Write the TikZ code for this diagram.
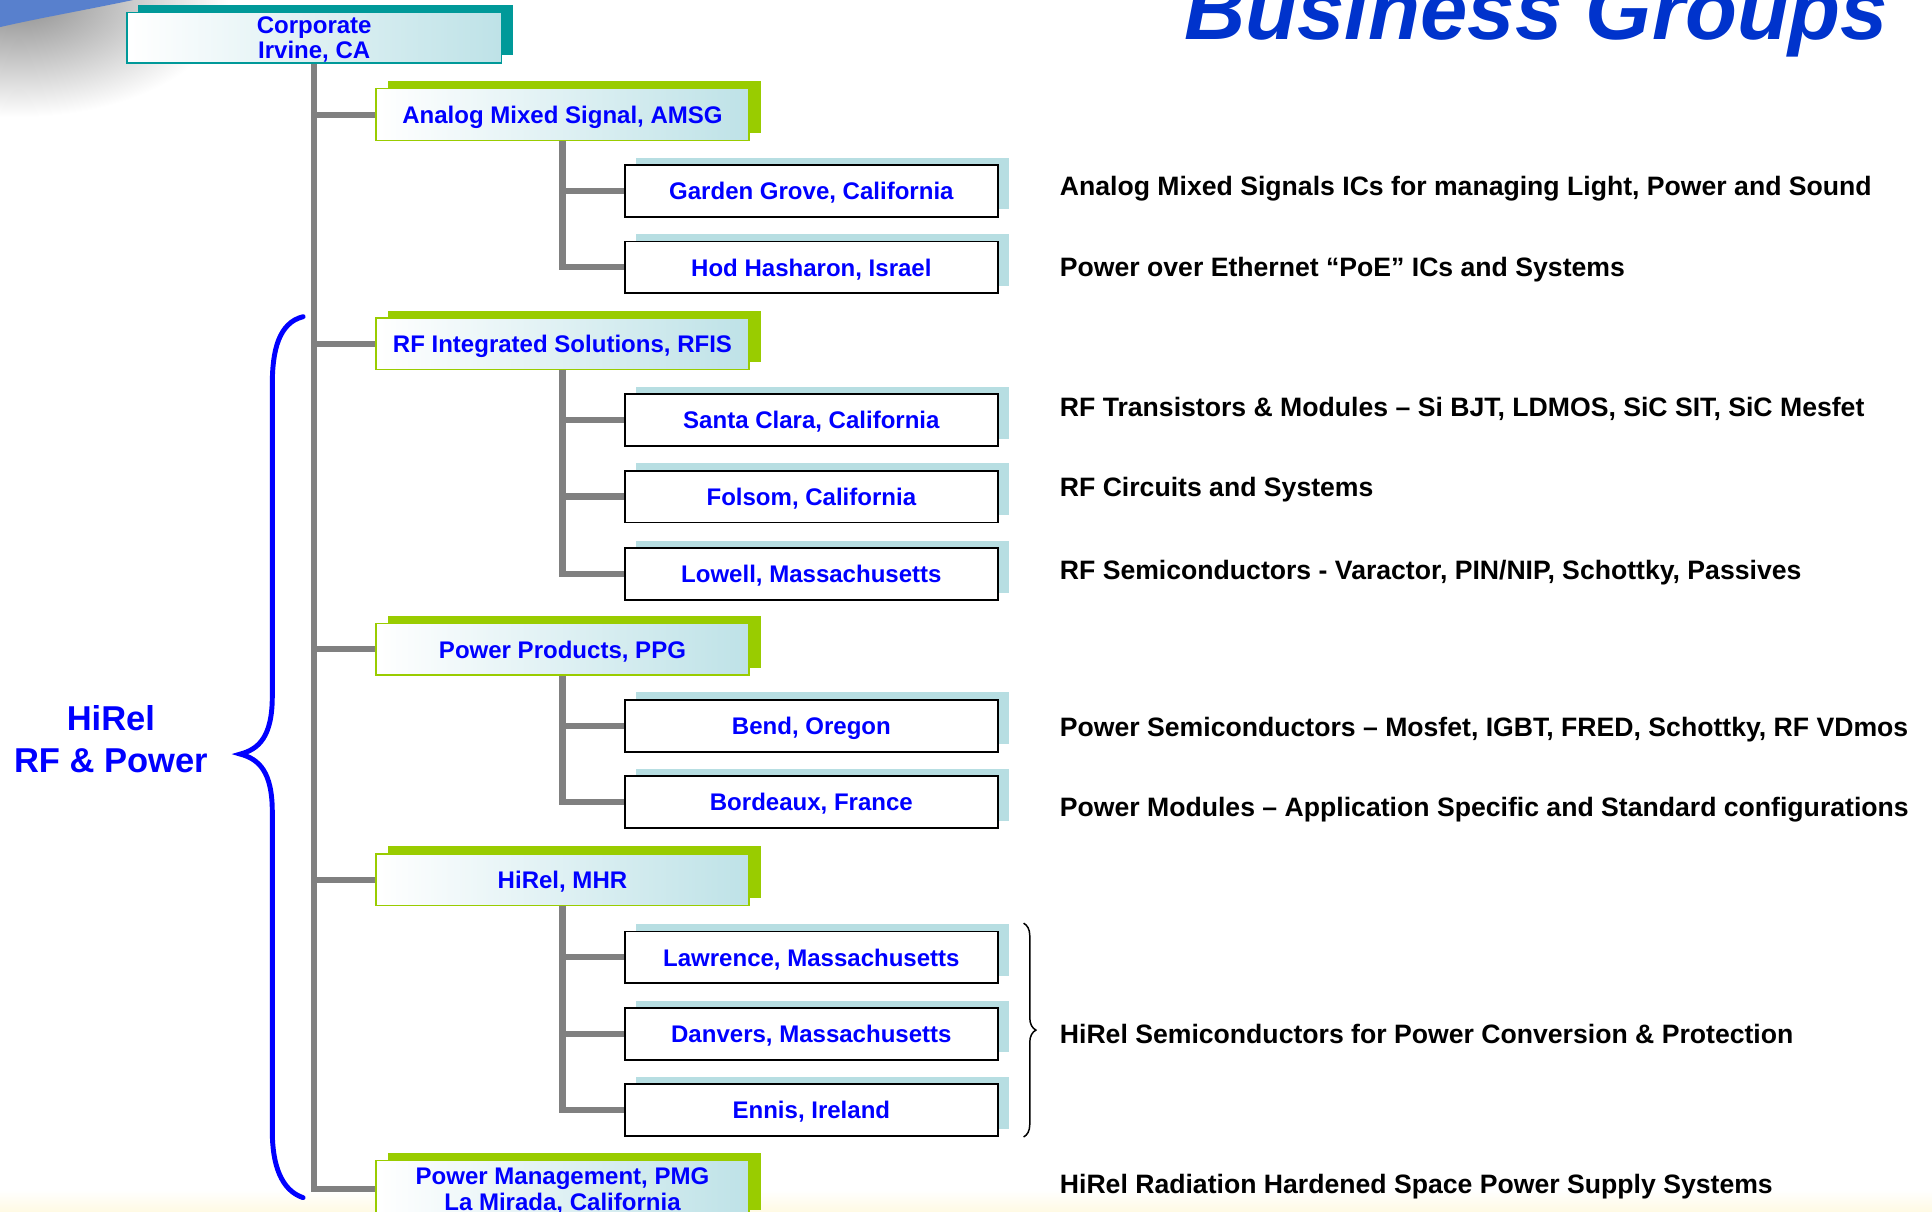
\documentclass[tikz,border=0pt]{standalone}
\usepackage{fontspec}
\setmainfont{Liberation Sans}
\usetikzlibrary{shadows,decorations.pathreplacing}

\definecolor{orgblue}{RGB}{0,0,255}
\definecolor{titleblue}{RGB}{0,51,204}
\definecolor{corpteal}{RGB}{0,153,153}
\definecolor{grpgreen}{RGB}{153,204,0}
\definecolor{boxcyan}{RGB}{190,226,231}
\definecolor{siteshadow}{RGB}{183,222,226}
\definecolor{linegray}{RGB}{128,128,128}
\definecolor{swoosh}{RGB}{88,128,205}
\definecolor{cream}{RGB}{255,250,228}

\tikzset{
  boxtext/.style={align=center, inner sep=0pt, text=orgblue, text depth=0pt,
    font=\fontsize{19.5}{20.5}\selectfont\bfseries},
  corpbox/.style={boxtext, draw=corpteal, line width=1.2pt,
    left color=white, right color=boxcyan,
    minimum width=304pt, minimum height=41pt,
    general shadow={fill=corpteal, shadow xshift=9pt, shadow yshift=6pt}},
  grpbox/.style={boxtext, draw=grpgreen, line width=1.2pt,
    left color=white, right color=boxcyan,
    minimum width=303pt, minimum height=42pt,
    general shadow={fill=grpgreen, shadow xshift=10pt, shadow yshift=6pt}},
  sitebox/.style={boxtext, draw=black, line width=1.5pt, fill=white,
    minimum width=303pt, minimum height=42pt,
    general shadow={fill=siteshadow, shadow xshift=9pt, shadow yshift=6pt}},
  desc/.style={anchor=west, inner sep=0pt, text height=16pt, text depth=0pt,
    font=\fontsize{21.6}{24}\selectfont\bfseries},
  trunk/.style={draw=linegray, line width=5pt}
}

\begin{document}
\begin{tikzpicture}[x=1pt, y=-1pt]
    \useasboundingbox (0,0) rectangle (1568,983);
    \clip (0,0) rectangle (1568,983);

    % background
    \shade[inner color=black!45, outer color=white] (15,0) ellipse (170 and 95);
    \fill[swoosh] (0,0) -- (108,0) .. controls (70,8) and (30,15) .. (0,22) -- cycle;
    \shade[top color=white, bottom color=cream] (0,966) rectangle (1568,983);

    \node[anchor=base west, text=titleblue, inner sep=0pt,
          font=\fontsize{69}{71}\selectfont\bfseries\itshape] (title) at (961,32) {Business Groups};

    \node[corpbox] (corp) at (255,30.5) {Corporate\\Irvine, CA};

    \node[grpbox] (amsg) at (456.5,93) {Analog Mixed Signal, AMSG};
    \node[grpbox] (rfis) at (456.5,279) {RF Integrated Solutions, RFIS};
    \node[grpbox] (ppg) at (456.5,527) {Power Products, PPG};
    \node[grpbox] (mhr) at (456.5,714) {HiRel, MHR};
    \node[grpbox, minimum height=46pt] (pmg) at (456.5,965) {Power Management, PMG\\La Mirada, California};

    \node[sitebox] (gg) at (658.5,155) {Garden Grove, California};
    \node[sitebox] (hod) at (658.5,217) {Hod Hasharon, Israel};
    \node[sitebox] (sc) at (658.5,341) {Santa Clara, California};
    \node[sitebox] (fol) at (658.5,403) {Folsom, California};
    \node[sitebox] (low) at (658.5,466) {Lowell, Massachusetts};
    \node[sitebox] (bend) at (658.5,589) {Bend, Oregon};
    \node[sitebox] (bdx) at (658.5,651) {Bordeaux, France};
    \node[sitebox] (law) at (658.5,777) {Lawrence, Massachusetts};
    \node[sitebox] (dan) at (658.5,839) {Danvers, Massachusetts};
    \node[sitebox] (enn) at (658.5,901) {Ennis, Ireland};

    \draw[trunk] (corp.south) -- (corp.south |- pmg.west) -- (pmg.west);
    \foreach \g in {amsg, rfis, ppg, mhr}
    \draw[trunk] (corp.south |- \g.west) -- (\g.west);

    \draw[trunk] (amsg.south) |- (hod.west);
    \draw[trunk] (rfis.south) |- (low.west);
    \draw[trunk] (ppg.south) |- (bdx.west);
    \draw[trunk] (mhr.south) |- (enn.west);
    \foreach \g/\s in {amsg/gg, rfis/sc, rfis/fol, ppg/bend, mhr/law, mhr/dan}
    \draw[trunk] (\g.south |- \s.west) -- (\s.west);

    \foreach \n/\y/\t in {1/151/{Analog Mixed Signals ICs for managing Light, Power and Sound},
                          2/216/{Power over Ethernet “PoE” ICs and Systems},
                          3/330/{RF Transistors \& Modules – Si BJT, LDMOS, SiC SIT, SiC Mesfet},
                          4/395/{RF Circuits and Systems},
                          5/462/{RF Semiconductors - Varactor, PIN/NIP, Schottky, Passives},
                          6/590/{Power Semiconductors – Mosfet, IGBT, FRED, Schottky, RF VDmos},
                          7/655/{Power Modules – Application Specific and Standard configurations},
                          8/839/{HiRel Semiconductors for Power Conversion \& Protection},
                          9/961/{HiRel Radiation Hardened Space Power Supply Systems}}
    \node[desc] (d\n) at (860,\y) {\t};

    \draw[line width=1.2pt, decorate, decoration={brace, amplitude=10pt}]
        ([xshift=20pt, yshift=6pt]law.north east) -- ([xshift=20pt]enn.south east);

    \draw[orgblue, line width=4pt, line cap=round]
        (246,257) .. controls (226,262) and (221,285) .. (221,312) -- (221,565)
        .. controls (221,598) and (210,608) .. (195,612)
        .. controls (210,616) and (221,626) .. (221,659) -- (221,918)
        .. controls (221,945) and (228,966) .. (246,972);
    \node[align=center, text=orgblue, font=\fontsize{28}{34}\selectfont\bfseries] (hirel) at (90,600) {HiRel\\RF \& Power};
\end{tikzpicture}
\end{document}
